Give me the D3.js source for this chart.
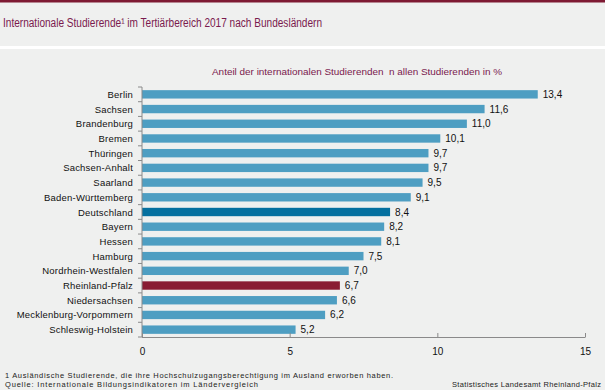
<!DOCTYPE html>
<html><head><meta charset="utf-8">
<script src="https://cdn.jsdelivr.net/npm/d3@7"></script>
<style>
html,body{margin:0;padding:0;background:#eff0ef;}
svg{display:block;font-family:"Liberation Sans",Arial,sans-serif;}
text{white-space:pre;}
</style></head>
<body>
<svg id="c" width="605" height="390"></svg>
<script>
const categories = ["Berlin","Sachsen","Brandenburg","Bremen","Thüringen","Sachsen-Anhalt","Saarland","Baden-Württemberg","Deutschland","Bayern","Hessen","Hamburg","Nordrhein-Westfalen","Rheinland-Pfalz","Niedersachsen","Mecklenburg-Vorpommern","Schleswig-Holstein"];
const values = [13.4,11.6,11.0,10.1,9.7,9.7,9.5,9.1,8.4,8.2,8.1,7.5,7.0,6.7,6.6,6.2,5.2];
const xTicks = [0,5,10,15];
const title = "Internationale Studierende¹ im Tertiärbereich 2017 nach Bundesländern";
const subtitle = "Anteil der internationalen Studierenden  n allen Studierenden in %";
const footnote1 = "1 Ausländische Studierende, die ihre Hochschulzugangsberechtigung im Ausland erworben haben.";
const footnote2 = "Quelle: Internationale Bildungsindikatoren im Ländervergleich";
const sourceRight = "Statistisches Landesamt Rheinland-Pfalz";

const svg = d3.select("#c");
const W = 605, H = 390;
svg.append("rect").attr("width",W).attr("height",H).attr("fill","#eff0ef");
svg.append("rect").attr("width",W).attr("height",2.5).attr("fill","#7e1a33");
svg.append("rect").attr("y",46).attr("width",W).attr("height",3).attr("fill","#ffffff");

svg.append("text").attr("x",3).attr("y",27).attr("font-size",12.5).attr("fill","#7a1a4e")
  .attr("textLength",319).attr("lengthAdjust","spacingAndGlyphs").text(title);

const x = d3.scaleLinear().domain([0,15]).range([142,585]);
const y = d3.scaleBand().domain(categories).range([87,337]).paddingInner(0.43).paddingOuter(0.215);

svg.append("text").attr("x",212).attr("y",74.5).attr("font-size",9.5).attr("fill","#7a1a4e")
  .attr("textLength",290).attr("lengthAdjust","spacingAndGlyphs").text(subtitle);

const colorFor = d => d==="Deutschland" ? "#05709f" : d==="Rheinland-Pfalz" ? "#891c33" : "#4e9ec2";

svg.append("g").selectAll("rect").data(categories).join("rect")
  .attr("x",x(0)).attr("y",d=>y(d)).attr("height",y.bandwidth())
  .attr("width",(d,i)=>x(values[i])-x(0)).attr("fill",colorFor);

svg.append("g").selectAll("text").data(categories).join("text")
  .attr("x",(d,i)=>x(values[i])+5).attr("y",d=>y(d)+y.bandwidth()/2+3.5)
  .attr("font-size",10).attr("fill","#111")
  .text((d,i)=>values[i].toFixed(1).replace(".",","));

// y axis
const yAxisG = svg.append("g");
yAxisG.append("line").attr("x1",142).attr("x2",142).attr("y1",87).attr("y2",337).attr("stroke","#8a8a8a");
const bounds = d3.range(categories.length+1).map(i=>87+i*(250/categories.length));
yAxisG.selectAll("line.t").data(bounds).join("line").attr("class","t")
  .attr("x1",138).attr("x2",142).attr("y1",d=>d).attr("y2",d=>d).attr("stroke","#8a8a8a");
yAxisG.selectAll("text").data(categories).join("text")
  .attr("x",133).attr("y",d=>y(d)+y.bandwidth()/2+3.5).attr("text-anchor","end")
  .attr("font-size",9.5).attr("letter-spacing",0.2).attr("fill","#111").text(d=>d);

// x axis
const xAxis = d3.axisBottom(x).tickValues(xTicks).tickSize(4).tickFormat(d3.format("d"));
const xg = svg.append("g").attr("transform","translate(0,337)").call(xAxis);
xg.select(".domain").attr("stroke","#8a8a8a").attr("d","M142,0.5H585.5");
xg.selectAll(".tick line").attr("stroke","#8a8a8a").attr("y1",-4).attr("y2",0);
xg.selectAll(".tick text").attr("font-size",10).attr("fill","#111").attr("font-family","Liberation Sans, Arial, sans-serif").attr("dy",0).attr("y",18);

svg.append("text").attr("x",5).attr("y",378).attr("font-size",7.5).attr("fill","#222")
  .attr("textLength",388).attr("lengthAdjust","spacing").text(footnote1);
svg.append("text").attr("x",5).attr("y",387).attr("font-size",7.5).attr("fill","#222")
  .attr("textLength",253).attr("lengthAdjust","spacing").text(footnote2);
svg.append("text").attr("x",452).attr("y",387).attr("font-size",7.5).attr("fill","#222")
  .attr("textLength",149).attr("lengthAdjust","spacing").text(sourceRight);
</script>
</body></html>
